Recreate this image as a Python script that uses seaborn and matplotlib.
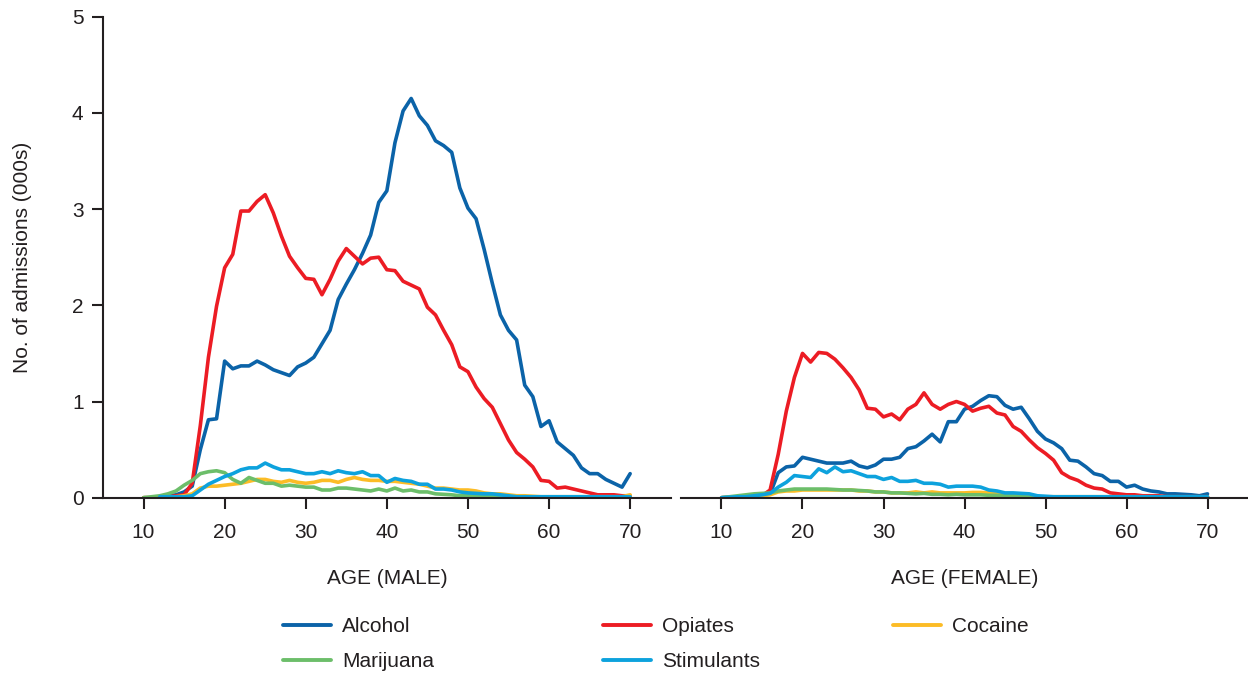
import matplotlib
matplotlib.use("Agg")
import matplotlib.pyplot as plt
import seaborn as sns
import numpy as np
import pandas as pd

# ages 10..70, one value per year (thousands of admissions)
AGES = list(range(10, 71))
DRUGS = ["Alcohol", "Opiates", "Cocaine", "Marijuana", "Stimulants"]
COLORS = ["#0B63A8", "#EC1C24", "#FCBC26", "#6CBE6A", "#0DA2DD"]

## Male ##
male_alcohol = [0.0, 0.0, 0.01, 0.02, 0.03, 0.06, 0.12, 0.50, 0.81, 0.82,
                1.42, 1.34, 1.37, 1.37, 1.42, 1.38, 1.33, 1.30, 1.27, 1.36,
                1.40, 1.46, 1.60, 1.74, 2.06, 2.22, 2.37, 2.54, 2.73, 3.07,
                3.19, 3.69, 4.02, 4.15, 3.97, 3.87, 3.71, 3.66, 3.59, 3.22,
                3.01, 2.90, 2.58, 2.23, 1.90, 1.74, 1.64, 1.17, 1.05, 0.74,
                0.80, 0.58, 0.51, 0.44, 0.31, 0.25, 0.25, 0.19, 0.15, 0.11,
                0.25]
male_opiates = [0.0, 0.0, 0.01, 0.01, 0.02, 0.03, 0.15, 0.75, 1.46, 1.99,
                2.39, 2.53, 2.98, 2.98, 3.08, 3.15, 2.96, 2.72, 2.51, 2.39,
                2.28, 2.27, 2.11, 2.27, 2.46, 2.59, 2.51, 2.43, 2.49, 2.50,
                2.37, 2.36, 2.25, 2.21, 2.17, 1.98, 1.90, 1.74, 1.59, 1.36,
                1.31, 1.15, 1.03, 0.94, 0.77, 0.60, 0.47, 0.40, 0.32, 0.18,
                0.17, 0.10, 0.11, 0.09, 0.07, 0.05, 0.03, 0.03, 0.03, 0.02,
                0.02]
male_cocaine = [0.0, 0.0, 0.0, 0.005, 0.01, 0.02, 0.04, 0.10, 0.12, 0.12,
                0.13, 0.14, 0.15, 0.17, 0.19, 0.19, 0.17, 0.16, 0.18, 0.16,
                0.15, 0.16, 0.18, 0.18, 0.16, 0.19, 0.21, 0.19, 0.18, 0.18,
                0.17, 0.17, 0.16, 0.15, 0.14, 0.12, 0.10, 0.10, 0.09, 0.08,
                0.08, 0.07, 0.05, 0.04, 0.04, 0.03, 0.02, 0.02, 0.015, 0.01,
                0.01, 0.01, 0.01, 0.01, 0.01, 0.01, 0.01, 0.01, 0.01, 0.01,
                0.03]
male_marijuana = [0.0, 0.01, 0.02, 0.04, 0.07, 0.13, 0.18, 0.25, 0.27, 0.28,
                  0.26, 0.19, 0.15, 0.21, 0.18, 0.15, 0.15, 0.12, 0.13, 0.12,
                  0.11, 0.11, 0.08, 0.08, 0.10, 0.10, 0.09, 0.08, 0.07, 0.09,
                  0.07, 0.10, 0.07, 0.08, 0.06, 0.06, 0.04, 0.035, 0.03, 0.02,
                  0.02, 0.015, 0.01, 0.01, 0.01, 0.005, 0.005, 0.005, 0.005, 0.005,
                  0.005, 0.005, 0.005, 0.005, 0.005, 0.005, 0.005, 0.005, 0.005, 0.005,
                  0.005]
male_stimulants = [np.nan, np.nan, 0.01, 0.01, 0.01, 0.01, 0.02, 0.08, 0.14, 0.18,
                   0.22, 0.25, 0.29, 0.31, 0.31, 0.36, 0.32, 0.29, 0.29, 0.27,
                   0.25, 0.25, 0.27, 0.25, 0.28, 0.26, 0.25, 0.27, 0.23, 0.23,
                   0.16, 0.20, 0.18, 0.17, 0.14, 0.14, 0.09, 0.09, 0.08, 0.06,
                   0.05, 0.045, 0.04, 0.04, 0.03, 0.02, 0.01, 0.01, 0.01, 0.01,
                   0.01, 0.01, 0.01, 0.01, 0.01, 0.01, 0.01, 0.01, 0.01, 0.01,
                   0.01]

## Female ##
female_alcohol = [0.0, 0.005, 0.01, 0.015, 0.02, 0.03, 0.04, 0.26, 0.32, 0.33,
                  0.42, 0.40, 0.38, 0.36, 0.36, 0.36, 0.38, 0.33, 0.31, 0.34,
                  0.40, 0.40, 0.42, 0.51, 0.53, 0.59, 0.66, 0.58, 0.79, 0.79,
                  0.92, 0.95, 1.01, 1.06, 1.05, 0.96, 0.92, 0.94, 0.82, 0.69,
                  0.61, 0.57, 0.51, 0.39, 0.38, 0.32, 0.25, 0.23, 0.17, 0.17,
                  0.11, 0.13, 0.09, 0.07, 0.06, 0.04, 0.04, 0.035, 0.03, 0.02,
                  0.04]
female_opiates = [0.0, 0.0, 0.005, 0.01, 0.015, 0.02, 0.08, 0.45, 0.90, 1.25,
                  1.50, 1.41, 1.51, 1.50, 1.44, 1.35, 1.25, 1.12, 0.93, 0.92,
                  0.84, 0.87, 0.81, 0.92, 0.97, 1.09, 0.97, 0.92, 0.97, 1.00,
                  0.97, 0.90, 0.93, 0.95, 0.88, 0.86, 0.74, 0.69, 0.60, 0.52,
                  0.46, 0.39, 0.26, 0.21, 0.18, 0.13, 0.10, 0.09, 0.05, 0.04,
                  0.03, 0.03, 0.02, 0.02, 0.02, 0.01, 0.01, 0.01, 0.01, 0.01,
                  0.01]
female_cocaine = [0.0, 0.0, 0.0, 0.005, 0.01, 0.02, 0.03, 0.06, 0.07, 0.07,
                  0.08, 0.08, 0.08, 0.08, 0.08, 0.08, 0.08, 0.07, 0.07, 0.06,
                  0.06, 0.05, 0.05, 0.05, 0.06, 0.05, 0.06, 0.05, 0.05, 0.05,
                  0.05, 0.055, 0.055, 0.05, 0.05, 0.03, 0.02, 0.02, 0.015, 0.01,
                  0.01, 0.01, 0.01, 0.01, 0.01, 0.01, 0.01, 0.01, 0.01, 0.01,
                  0.01, 0.01, 0.01, 0.01, 0.01, 0.01, 0.01, 0.01, 0.01, 0.01,
                  0.01]
female_marijuana = [0.0, 0.01, 0.02, 0.03, 0.04, 0.045, 0.05, 0.07, 0.08, 0.09,
                    0.09, 0.09, 0.09, 0.09, 0.085, 0.08, 0.08, 0.075, 0.07, 0.06,
                    0.06, 0.05, 0.05, 0.045, 0.04, 0.045, 0.035, 0.035, 0.03, 0.035,
                    0.03, 0.03, 0.03, 0.025, 0.025, 0.02, 0.02, 0.01, 0.005, 0.005,
                    0.005, 0.005, 0.005, 0.005, 0.005, 0.005, 0.005, 0.005, 0.005, 0.005,
                    0.005, 0.005, 0.005, 0.005, 0.005, 0.005, 0.005, 0.005, 0.005, 0.005,
                    0.005]
female_stimulants = [0.0, 0.005, 0.01, 0.01, 0.02, 0.03, 0.045, 0.11, 0.16, 0.23,
                     0.22, 0.21, 0.30, 0.26, 0.32, 0.27, 0.28, 0.25, 0.22, 0.22,
                     0.19, 0.21, 0.17, 0.17, 0.18, 0.15, 0.15, 0.14, 0.11, 0.12,
                     0.12, 0.12, 0.11, 0.08, 0.07, 0.05, 0.05, 0.045, 0.04, 0.02,
                     0.015, 0.01, 0.01, 0.01, 0.01, 0.01, 0.01, 0.01, 0.01, 0.01,
                     0.01, 0.01, 0.01, 0.01, 0.01, 0.01, 0.01, 0.01, 0.01, 0.01,
                     0.01]

male = [male_alcohol, male_opiates, male_cocaine, male_marijuana, male_stimulants]
female = [female_alcohol, female_opiates, female_cocaine, female_marijuana, female_stimulants]


def to_long(series_list):
    frames = []
    for drug, vals in zip(DRUGS, series_list):
        frames.append(pd.DataFrame({"age": AGES, "value": vals, "drug": drug}))
    return pd.concat(frames, ignore_index=True).dropna()


sns.set_style("white")
plt.rcParams["font.family"] = ["Liberation Sans", "DejaVu Sans"]
INK = "#231f20"

W, H = 1248, 673
fig = plt.figure(figsize=(W / 100, H / 100), dpi=100)
bottom = 1 - 497.7 / H
height = (497.7 - 16.7) / H
ax1 = fig.add_axes([103 / W, bottom, 567.7 / W, height])
ax2 = fig.add_axes([681 / W, bottom, 567 / W, height])

palette = dict(zip(DRUGS, COLORS))
for ax, data, xlabel in [(ax1, male, "AGE (MALE)"), (ax2, female, "AGE (FEMALE)")]:
    sns.lineplot(data=to_long(data), x="age", y="value", hue="drug",
                 hue_order=DRUGS, palette=palette, linewidth=2.6, ax=ax)
    ax.set_xlim(5, 75)
    ax.set_ylim(0, 5)
    ax.set_xticks([10, 20, 30, 40, 50, 60, 70])
    ax.set_xlabel(xlabel, fontsize=15, color=INK, labelpad=20)
    ax.tick_params(axis="x", direction="out", length=8, width=1.5, color=INK,
                   labelsize=15, labelcolor=INK, pad=10, bottom=True)
    for s in ["top", "right"]:
        ax.spines[s].set_visible(False)
    for s in ["left", "bottom"]:
        ax.spines[s].set_color(INK)
        ax.spines[s].set_linewidth(1.5)

handles, labels = ax1.get_legend_handles_labels()
ax1.get_legend().remove()
ax2.get_legend().remove()
for h in handles:
    h.set_linewidth(2.8)

ax1.set_yticks([0, 1, 2, 3, 4, 5])
ax1.set_ylabel("No. of admissions (000s)", fontsize=15, color=INK, labelpad=29)
ax1.tick_params(axis="y", direction="out", length=8, width=1.5, color=INK,
                labelsize=15, labelcolor=INK, pad=6, left=True)
ax2.spines["left"].set_visible(False)
ax2.set_yticks([])
ax2.set_ylabel("")

# three legend columns placed like the original
cols = [(283, [0, 3]), (603, [1, 4]), (893, [2])]
for xpx, idx in cols:
    leg = fig.legend([handles[i] for i in idx], [labels[i] for i in idx],
                     loc="upper left", bbox_to_anchor=(xpx / W, 1 - 617 / H),
                     frameon=False, fontsize=15, handlelength=2.3,
                     handletextpad=0.55, labelspacing=0.78, borderpad=0,
                     borderaxespad=0)
    for t in leg.get_texts():
        t.set_color(INK)

fig.savefig("out.png", dpi=100)
